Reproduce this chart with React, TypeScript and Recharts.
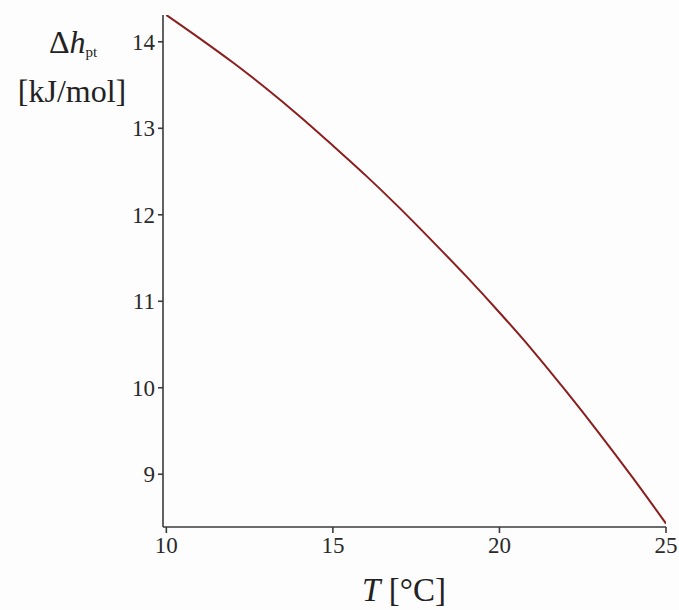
import { Label, Line, LineChart, XAxis, YAxis } from 'recharts'

// temperature in °C
const temps = [10, 11, 12, 13, 14, 15, 16, 17, 18, 19, 20, 21, 22, 23, 24, 25]
// phase transition enthalpy in kJ/mol
const enthalpy = [
  14.31, 14.04, 13.76, 13.46, 13.14, 12.8, 12.45, 12.08, 11.69, 11.29, 10.87,
  10.43, 9.96, 9.47, 8.96, 8.43,
]
const xTicks = [10, 15, 20, 25]
const yTicks = [9, 10, 11, 12, 13, 14]

const data = temps.map((t, i) => ({ t, h: enthalpy[i] }))

const AXIS = '#3a3a3a'
const SERIF = '"Liberation Serif", "Times New Roman", serif'

export default function App() {
  return (
    <div style={{ position: 'absolute', left: 0, top: 0, background: '#fdfdfd' }}>
      <LineChart
        width={679}
        height={610}
        data={data}
        margin={{ top: 15, right: 13, left: 0, bottom: 0 }}
      >
        <XAxis
          dataKey="t"
          type="number"
          domain={[9.9, 25]}
          ticks={xTicks}
          allowDataOverflow
          height={83}
          stroke={AXIS}
          strokeWidth={1.6}
          tickSize={6}
          tickMargin={4}
          tick={{ fontSize: 23, fill: '#2a2a2a', fontFamily: SERIF }}
        >
          <Label
            content={() => (
              <text
                x={404}
                y={601}
                textAnchor="middle"
                fontFamily={SERIF}
                fontSize={33}
                fill="#222"
              >
                <tspan fontStyle="italic">T</tspan>
                <tspan> [°C]</tspan>
              </text>
            )}
          />
        </XAxis>
        <YAxis
          type="number"
          domain={[8.39, 14.31]}
          ticks={yTicks}
          allowDataOverflow
          width={163}
          stroke={AXIS}
          strokeWidth={1.6}
          tickSize={5}
          tickMargin={3}
          tick={{ fontSize: 23, fill: '#2a2a2a', fontFamily: SERIF }}
        >
          <Label
            content={() => (
              <g fontFamily={SERIF} fill="#222">
                <text x={73} y={53} textAnchor="middle" fontSize={32}>
                  <tspan>Δ</tspan>
                  <tspan fontStyle="italic">h</tspan>
                  <tspan fontSize={15} dy={4}>pt</tspan>
                </text>
                <text x={72} y={102} textAnchor="middle" fontSize={32}>
                  [kJ/mol]
                </text>
              </g>
            )}
          />
        </YAxis>
        <Line
          dataKey="h"
          type="monotone"
          stroke="#8b1e1e"
          strokeWidth={2}
          dot={false}
          isAnimationActive={false}
        />
      </LineChart>
    </div>
  )
}
